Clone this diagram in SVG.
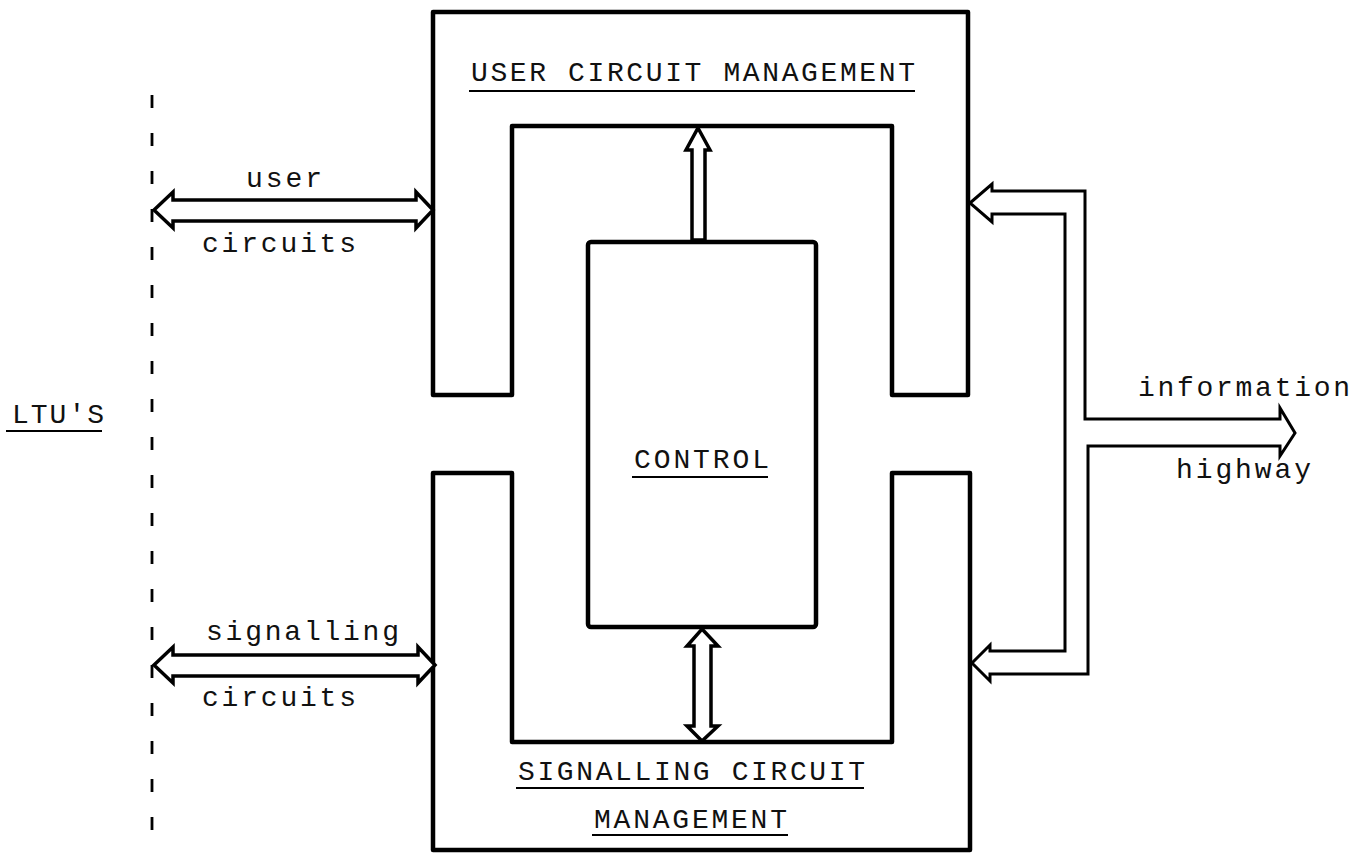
<svg xmlns="http://www.w3.org/2000/svg" width="1364" height="859" viewBox="0 0 1364 859">
  <style>
    .blk { fill: none; stroke: #000; stroke-width: 4.5; stroke-linejoin: round; }
    .arw { fill: #fff; stroke: #000; stroke-width: 3.5; stroke-linejoin: miter; }
    .bus { fill: none; stroke: #000; stroke-width: 3; stroke-linejoin: miter; }
    .lbl { font-family: "Liberation Mono", "Courier New", monospace; font-size: 28px; fill: #111; }
    .ul { stroke: #000; stroke-width: 2; }
    .dash { stroke: #000; stroke-width: 2.8; stroke-dasharray: 13 25; }
  </style>
  <rect width="1364" height="859" fill="#fff"/>

  <!-- LTU boundary -->
  <g id="ltu-boundary">
    <line class="dash" x1="152" y1="95" x2="152" y2="840"/>
    <text class="lbl" x="12" y="423" textLength="92" lengthAdjust="spacing">LTU'S</text>
    <line class="ul" x1="6" y1="431" x2="102" y2="431"/>
  </g>

  <!-- user circuit management block -->
  <g id="user-circuit-management">
    <path class="blk" d="M433,12 H968 V395 H892 V126 H512 V395 H433 Z"/>
    <text class="lbl" x="471" y="81" textLength="444" lengthAdjust="spacing">USER CIRCUIT MANAGEMENT</text>
    <line class="ul" x1="469" y1="91" x2="915" y2="91"/>
  </g>

  <!-- control block -->
  <g id="control">
    <rect class="blk" x="588" y="242" width="228" height="385" rx="3"/>
    <text class="lbl" x="634" y="468" textLength="135" lengthAdjust="spacing">CONTROL</text>
    <line class="ul" x1="632" y1="477" x2="768" y2="477"/>
  </g>

  <!-- signalling circuit management block -->
  <g id="signalling-circuit-management">
    <path class="blk" d="M433,473 H512 V742 H892 V473 H970 V850 H433 Z"/>
    <text class="lbl" x="518" y="780" textLength="347" lengthAdjust="spacing">SIGNALLING CIRCUIT</text>
    <line class="ul" x1="516" y1="788" x2="864" y2="788"/>
    <text class="lbl" x="594" y="828" textLength="193" lengthAdjust="spacing">MANAGEMENT</text>
    <line class="ul" x1="592" y1="835" x2="788" y2="835"/>
  </g>

  <!-- connectors -->
  <g id="connectors">
    <!-- user circuits (LTU <-> user circuit management) -->
    <path class="arw" d="M154,210 L173,192 V200 H416 V192 L433,210 L416,228 V221 H173 V228 Z"/>
    <!-- signalling circuits (LTU <-> signalling circuit management) -->
    <path class="arw" d="M154,665 L173,647 V655 H418 V647 L435,665 L418,683 V676 H173 V683 Z"/>
    <!-- control -> user circuit management -->
    <path class="arw" d="M698,128 L710,150 H705 V240 H692 V150 H686 Z"/>
    <!-- control <-> signalling circuit management -->
    <path class="arw" d="M702,629 L718,646 H711 V726 H718 L702,741 L687,726 H694 V646 H687 Z"/>
    <!-- information highway bus -->
    <path class="bus" d="M970,203 L992,184 V191 H1085 V419 H1280 V408 L1295,433 L1280,456 V446 H1088 V674 H990 V681 L972,663 L990,645 V651 H1065 V214 H992 V222 Z"/>
  </g>

  <!-- connector labels -->
  <g id="connector-labels">
    <text class="lbl" x="246" y="187" textLength="76" lengthAdjust="spacing">user</text>
    <text class="lbl" x="202" y="252" textLength="154" lengthAdjust="spacing">circuits</text>
    <text class="lbl" x="206" y="640" textLength="193" lengthAdjust="spacing">signalling</text>
    <text class="lbl" x="202" y="706" textLength="154" lengthAdjust="spacing">circuits</text>
    <text class="lbl" x="1138" y="396" textLength="212" lengthAdjust="spacing">information</text>
    <text class="lbl" x="1176" y="478" textLength="135" lengthAdjust="spacing">highway</text>
  </g>
</svg>
